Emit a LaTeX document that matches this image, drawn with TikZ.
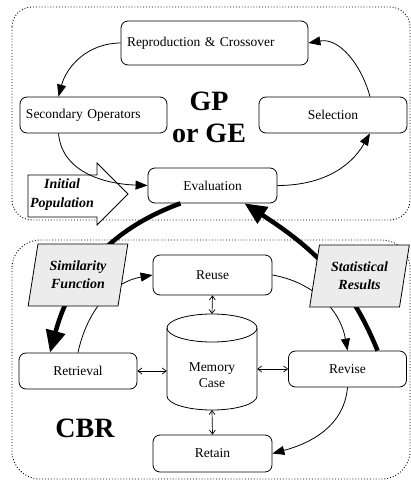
\documentclass[tikz,border=0pt]{standalone}
\usepackage{fontspec}
\setmainfont{Liberation Serif}
\usetikzlibrary{arrows.meta,calc,shapes.geometric}
\tikzset{%
        auto,
        x = 1pt,
        y = 1pt
}
\tikzstyle{box}=[
    draw = black,
    fill = white,
    rounded corners = 7pt,
    line width = 0.8pt,
    inner sep = 0pt,
    font = \fontsize{13.5}{16}\selectfont
]
\tikzstyle{leftbox}=[
    box,
    align = left
]
\tikzstyle{para}=[
    draw = black,
    fill = gray!15,
    line width = 0.8pt,
    trapezium,
    trapezium left angle = 76,
    trapezium right angle = 104,
    trapezium stretches = true,
    minimum width = 100,
    minimum height = 62,
    inner sep = 0pt,
    align = center,
    font = \bfseries\itshape\fontsize{14}{18}\selectfont
]
\tikzstyle{region}=[
    dotted,
    line width = 0.9pt
]
\tikzstyle{flow}=[
    line width = 0.8pt,
    -{Triangle[length=12pt,width=9pt]}
]
\tikzstyle{heavy}=[
    line width = 4.5pt,
    -{Triangle[length=22pt,width=19pt]}
]
\tikzstyle{link}=[
    line width = 0.7pt,
    {Straight Barb[length=4pt,width=6pt]}-{Straight Barb[length=4pt,width=6pt]}
]
\tikzstyle{big}=[
    align = center,
    font = \bfseries\fontsize{28}{32}\selectfont
]

\begin{document}
\begin{tikzpicture}
        \useasboundingbox (0,0) rectangle (411,-483);
        \draw[region, rounded corners=20pt] (12,-7) rectangle (410,-220);
        \draw[region, rounded corners=28pt] (12,-240) rectangle (410,-479);

        \draw[line width=0.8pt, fill=white] (28,-175) -- (97,-175) -- (97,-163)
            -- (128,-194) -- (97,-225) -- (97,-217) -- (28,-217) -- cycle;
        \node[align=center, font=\bfseries\itshape\fontsize{14}{19}\selectfont] (ip)
            at (62,-195) {Initial\\Population};

        \node[leftbox, text width=175, minimum width=187, minimum height=44] (rc) at (214.5,-43) {Reproduction \& Crossover};
        \node[leftbox, text width=135, minimum width=147, minimum height=36] (so) at (93.5,-115) {Secondary Operators};
        \node[box, minimum width=148, minimum height=36] (sel) at (333,-115) {Selection};
        \node[box, minimum width=129, minimum height=35] (ev) at (212.5,-185.5) {Evaluation};
        \node[big] (gp) at (209,-117) {GP\\or GE};

        \node[box, minimum width=119, minimum height=40] (reu) at (212.5,-275) {Reuse};
        \node[box, minimum width=118, minimum height=36] (ret) at (78,-371) {Retrieval};
        \node[box, minimum width=118, minimum height=36] (rev) at (347.5,-369) {Revise};
        \node[box, minimum width=119, minimum height=37] (rtn) at (212.5,-453.5) {Retain};
        \node[big] (cbr) at (85,-428) {CBR};

        \draw[line width=0.8pt] (167,-328) -- (167,-396)
            arc[start angle=180, end angle=360, x radius=45, y radius=14] -- (257,-328);
        \draw[line width=0.8pt] (212,-328) ellipse [x radius=45, y radius=14];
        \coordinate (ctop) at (212,-314);
        \coordinate (cbot) at (212,-410);
        \node[align=center, minimum width=90, inner sep=0pt, font=\fontsize{13.5}{16}\selectfont] (mem)
            at (212,-375) {Memory\\Case};

      \path
      (rc.west)
      edge[flow, out=180, in=75] ([xshift=-35]so.north)
      ([xshift=-35]so.south)
      edge[flow, out=-85, in=178] (ev.west)
      (ev.east)
      edge[flow, out=0, in=240] ([xshift=37]sel.south)
      ([xshift=37]sel.north)
      edge[flow, out=105, in=10] (rc.east)
      (ret.north)
      edge[flow, out=78, in=190] (reu.west)
      (reu.east)
      edge[flow, out=-10, in=100] (rev.north)
      (rev.south)
      edge[flow, out=-95, in=15] (rtn.east)
      ;
      \path
      ([xshift=-32]ev.south)
      edge[heavy, out=200, in=75] ([xshift=-28]ret.north)
      ([xshift=30]rev.north)
      edge[heavy, out=112, in=-33] ([xshift=32]ev.south)
      ;
      \path
      (ret.east) edge[link] (ret.east -| mem.west)
      (rev.west) edge[link] (rev.west -| mem.east)
      (reu.south) edge[link] (ctop)
      (cbot) edge[link] (rtn.north)
      ;

        \node[para] (sim) at (78,-275) {Similarity\\Function};
        \node[para] (stat) at (359.5,-276) {Statistical\\Results};
    \end{tikzpicture}
\end{document}
